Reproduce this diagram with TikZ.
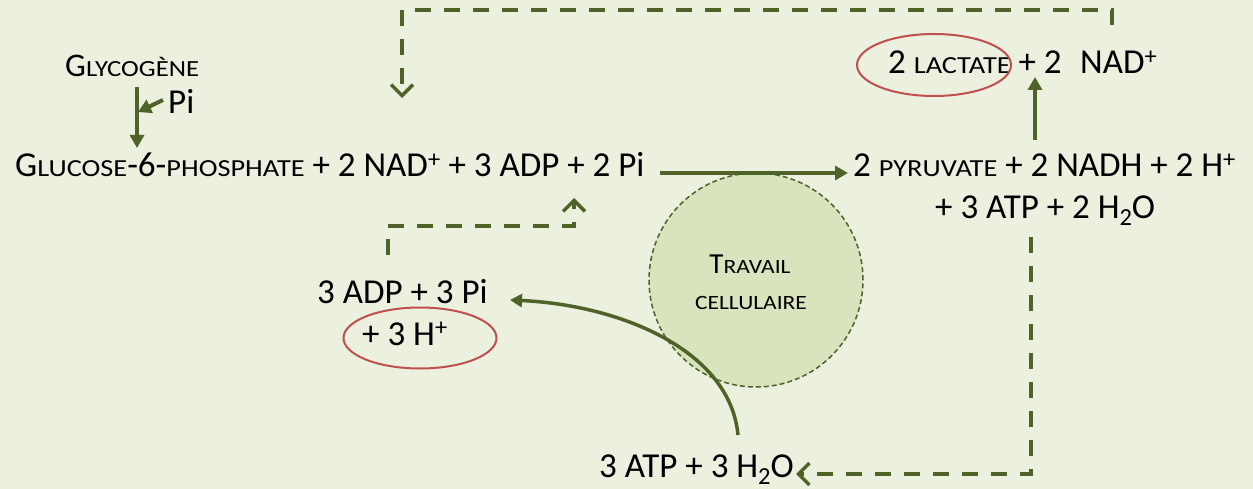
\documentclass[tikz,border=0pt]{standalone}
\usepackage{graphicx}
\usepackage{fontspec}
\setmainfont{Carlito}
\usetikzlibrary{arrows.meta,shapes.geometric}
\definecolor{bgc}{RGB}{235,240,223}
\definecolor{dg}{RGB}{79,98,40}
\definecolor{cfill}{RGB}{215,228,189}
\definecolor{rd}{RGB}{192,80,77}
\newcommand\smc[1]{\scalebox{0.81}[0.7]{#1}}
\newcommand\sps{\textsuperscript{+}}
\newcommand\sbs[1]{\raisebox{-0.2em}{\scalebox{0.7}{#1}}}
\newcommand\fmain{\fontsize{35}{42}\selectfont}
\newcommand\fgly{\fontsize{33}{40}\selectfont}
\newcommand\ftrav{\fontsize{29}{35}\selectfont}
\begin{document}
\begin{tikzpicture}[x=1pt,y=-1pt,
  txt/.style={inner sep=0pt, anchor=base west, text=black, font=\fmain},
  solidarr/.style={draw=dg, line width=4pt, -{Triangle[length=13pt,width=14pt]}},
  curvarr/.style={draw=dg, line width=3.5pt, -{Triangle[length=12pt,width=13pt]}},
  dasharr/.style={draw=dg, line width=4pt, dash pattern=on 16pt off 13pt, -{Straight Barb[length=11pt,width=22pt,line width=3.5pt]}},
  redell/.style={ellipse, draw=rd, line width=2pt, inner sep=0pt}]
\fill[bgc] (0,0) rectangle (1253,489);
\useasboundingbox (0,0) rectangle (1253,489);

% circle
\node[circle, draw=dg, fill=cfill, line width=1.5pt, dash pattern=on 5pt off 3pt, minimum size=214pt, inner sep=0pt] (trav) at (756,280) {};
\node[txt, anchor=base, font=\ftrav] (trav1) at (750,273) {T\smc{RAVAIL}};
\node[txt, anchor=base, font=\ftrav] (trav2) at (751,309) {\smc{CELLULAIRE}};

% texts
\node[txt, font=\fgly] (gly) at (65,77) {G\smc{LYCOGÈNE}};
\node[txt] (pi) at (168,114) {Pi};
\node[txt] (g6p) at (15,177) {G\smc{LUCOSE}-6-\smc{PHOSPHATE} + 2 NAD\sps{} + 3 ADP + 2 Pi};
\node[txt] (pyr1) at (853,177) {2 \smc{PYRUVATE} + 2 NADH + 2 H\sps};
\node[txt] (pyr2) at (935,219) {+ 3 ATP + 2 H\sbs{2}O};
\node[txt] (lact) at (888,74) {2 \smc{LACTATE} + 2};
\node[txt] (nad) at (1080,74) {NAD\sps};
\node[txt] (adp) at (317,303) {3 ADP + 3 Pi};
\node[txt] (hp) at (362,345) {+ 3 H\sps};
\node[txt] (atp) at (599,477) {3 ATP + 3 H\sbs{2}O};

% red ellipses
\node[redell, minimum width=154pt, minimum height=62pt] (ell1) at (934,65) {};
\node[redell, minimum width=153pt, minimum height=61pt] (ell2) at (420,338) {};

% coordinates
\coordinate (glyS) at (137,87);
\coordinate (glyE) at (137,148);
\coordinate (piS) at (163,100);
\coordinate (piE) at (138,112);
\coordinate (mS) at (660,173);
\coordinate (mE) at (848,173);
\coordinate (lS) at (1035,140);
\coordinate (lE) at (1035,77);
\coordinate (cS) at (738,435);
\coordinate (cE) at (510,300);
\coordinate (t1) at (1112,25);
\coordinate (t2) at (1112,10);
\coordinate (t3) at (402,10);
\coordinate (t4) at (402,98);
\coordinate (a1) at (388,255);
\coordinate (a2) at (388,226);
\coordinate (a3) at (574,226);
\coordinate (a4) at (574,198);
\coordinate (r1) at (1031,237);
\coordinate (r2) at (1031,474);
\coordinate (r3) at (796,474);

% arrows
\draw[solidarr] (glyS) -- (glyE);
\draw[solidarr] (piS) -- (piE);
\draw[solidarr] (mS) -- (mE);
\draw[solidarr] (lS) -- (lE);
\draw[curvarr] (cS) .. controls (730,350) and (620,305) .. (cE);
\draw[dasharr] (t1) -- (t2) -- (t3) -- (t4);
\draw[dasharr] (a1) -- (a2) -- (a3) -- (a4);
\draw[dasharr] (r1) -- (r2) -- (r3);
\end{tikzpicture}
\end{document}
